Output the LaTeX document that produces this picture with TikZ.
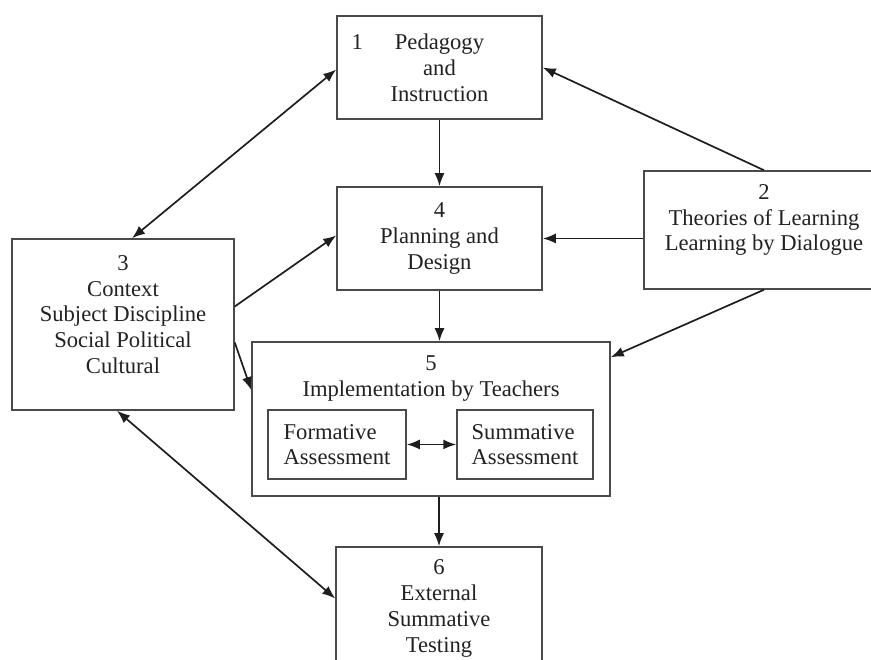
\documentclass[tikz,border=0pt]{standalone}
\usepackage{fontspec}
\setmainfont{Liberation Serif}
\usepackage{xcolor}
\usetikzlibrary{arrows.meta}
\definecolor{frameGrey}{HTML}{4A4A4A}
\definecolor{linkBlack}{HTML}{1E1E1E}
\definecolor{textBlack}{HTML}{222222}
\tikzset{
  stagebox/.style={rectangle, draw=frameGrey, fill=white, line width=1.5pt, align=center, inner sep=0pt, text=textBlack, font=\fontsize{22.6}{25.8}\selectfont},
  innerbox/.style={rectangle, draw=frameGrey, fill=white, line width=1.5pt, align=left, inner sep=0pt, text=textBlack, font=\fontsize{22.6}{25.4}\selectfont, minimum height=69pt},
  boxtext/.style={align=center, inner sep=0pt, text=textBlack, font=\fontsize{22.6}{25.8}\selectfont},
  linkarrow/.style={-{Latex[length=13pt,width=10pt]}, line width=1.7pt, draw=linkBlack},
  botharrow/.style={{Latex[length=13pt,width=10pt]}-{Latex[length=13pt,width=10pt]}, line width=1.7pt, draw=linkBlack},
}

\begin{document}
\begin{tikzpicture}[x=1pt,y=1pt]
  \useasboundingbox (0,0) rectangle (871,660);
  \clip (0,0) rectangle (871,660);

  % --- stages ---
  \node[stagebox, minimum width=205pt, minimum height=103pt] (ped) at (439.5,592.5) {\makebox[0pt][r]{1\hspace{32pt}}Pedagogy\\and\\Instruction};
  \node[stagebox, minimum width=205pt, minimum height=103pt] (plan) at (439.5,421.5) {4\\Planning and\\Design};
  \node[stagebox, minimum width=240pt, minimum height=118pt] (theory) at (764,430) {};
  \node[boxtext] (theorytext) at (764,440) {2\\Theories of Learning\\Learning by Dialogue};
  \node[stagebox, minimum width=222pt, minimum height=171pt] (context) at (123,335.5) {};
  \node[boxtext] (contexttext) at (123,345.5) {3\\Context\\Subject Discipline\\Social Political\\Cultural};
  \node[stagebox, minimum width=358pt, minimum height=154pt] (impl) at (431,241) {};
  \node[boxtext] (impltext) at (431,281.5) {5\\Implementation by Teachers};
  \node[innerbox, minimum width=138pt] (form) at (337,215.5) {Formative\\Assessment};
  \node[innerbox, minimum width=136pt] (summ) at (525,215.5) {Summative\\Assessment};
  \node[stagebox, minimum width=206pt, minimum height=123pt] (test) at (439,51.5) {6\\External\\Summative\\Testing};

  % --- links ---
  \draw[linkarrow] (ped.south) -- (plan.north);
  \draw[linkarrow] (plan.south) -- (plan.south |- impl.north);
  \draw[linkarrow] (impl.south -| test.north) -- (test.north);
  \draw[linkarrow] (theory.north) -- (ped.east);
  \draw[linkarrow] (theory.west |- plan.east) -- (plan.east);
  \draw[linkarrow] (theory.south) -- ([yshift=-16pt]impl.north east);
  \draw[linkarrow] ([yshift=18pt]context.east) -- ([yshift=3pt]plan.west);
  \draw[linkarrow] ([yshift=-18pt]context.east) -- ([yshift=29pt]impl.west);
  \draw[botharrow] ([xshift=9pt]context.north) -- ([yshift=-2pt]ped.west);
  \draw[botharrow] ([xshift=-6pt]context.south) -- ([yshift=10pt]test.west);
  \draw[botharrow] (form.east) -- (summ.west);
\end{tikzpicture}
\end{document}
